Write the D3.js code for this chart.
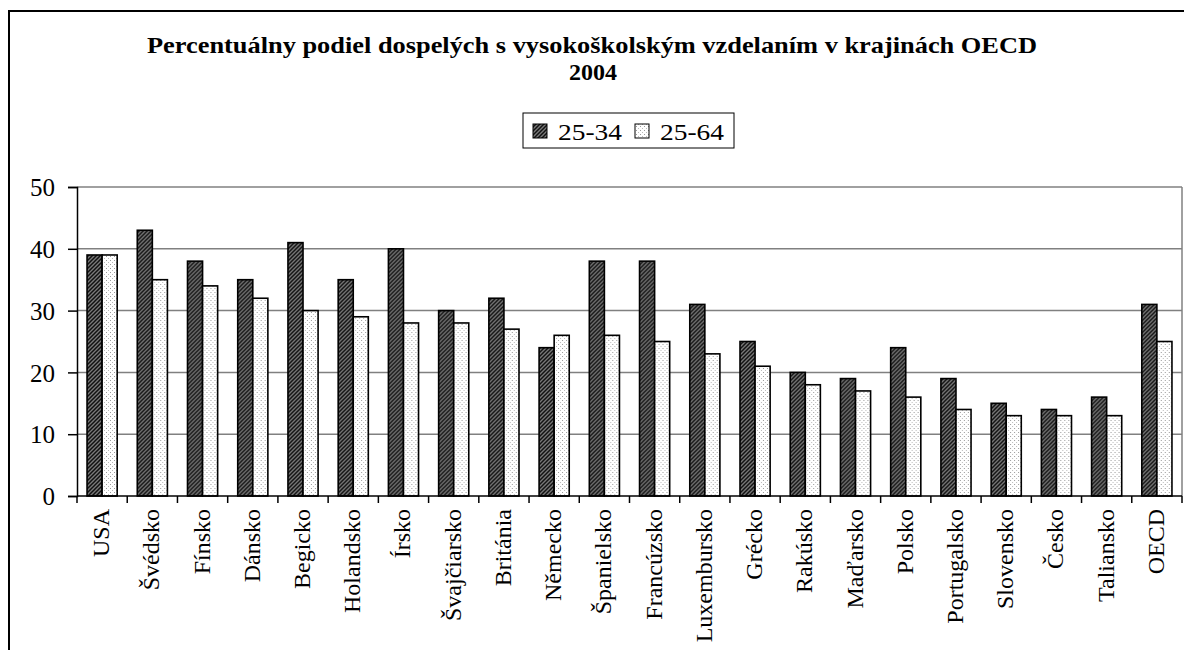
<!DOCTYPE html>
<html>
<head>
<meta charset="utf-8">
<script src="https://cdn.jsdelivr.net/npm/d3@7"></script>
<style>
  body { margin: 0; background: #fff; }
  svg text { font-family: "Liberation Serif", "Times New Roman", Times, serif !important; }
</style>
</head>
<body>
<div class="chart"></div>
<script>
var svgWidth = 1184;
var svgHeight = 650;

var countries = ["USA", "Švédsko", "Fínsko", "Dánsko", "Begicko", "Holandsko", "Írsko", "Švajčiarsko",
  "Británia", "Německo", "Španielsko", "Francúzsko", "Luxembursko", "Grécko", "Rakúsko", "Maďarsko",
  "Polsko", "Portugalsko", "Slovensko", "Česko", "Taliansko", "OECD"];
var young = [39, 43, 38, 35, 41, 35, 40, 30, 32, 24, 38, 38, 31, 25, 20, 19, 24, 19, 15, 14, 16, 31];   // 25-34
var all = [39, 35, 34, 32, 30, 29, 28, 28, 27, 26, 26, 25, 23, 21, 18, 17, 16, 14, 13, 13, 13, 25];     // 25-64
var seriesNames = ["25-34", "25-64"];
var yTicks = [0, 10, 20, 30, 40, 50];

var margin = { top: 187, right: 2, bottom: 154, left: 77 };
var width = svgWidth - margin.left - margin.right;
var height = svgHeight - margin.top - margin.bottom;

var svg = d3.select(".chart")
  .append("svg")
  .attr("width", svgWidth)
  .attr("height", svgHeight);

// fill patterns
var defs = svg.append("defs");
var hatch = defs.append("pattern")
  .attr("id", "hatch")
  .attr("patternUnits", "userSpaceOnUse")
  .attr("width", 4).attr("height", 4);
hatch.append("rect").attr("width", 4).attr("height", 4).attr("fill", "#7a7a7a");
hatch.append("path").attr("d", "M-1,1 l2,-2 M0,4 l4,-4 M3,5 l2,-2")
  .attr("stroke", "#111").attr("stroke-width", 1.5);

var dots = defs.append("pattern")
  .attr("id", "dots")
  .attr("patternUnits", "userSpaceOnUse")
  .attr("width", 4).attr("height", 4);
dots.append("rect").attr("width", 4).attr("height", 4).attr("fill", "#fff");
dots.append("rect").attr("x", 1).attr("y", 1).attr("width", 1).attr("height", 1).attr("fill", "#999");
dots.append("rect").attr("x", 3).attr("y", 3).attr("width", 1).attr("height", 1).attr("fill", "#bbb");

var fills = ["url(#hatch)", "url(#dots)"];

// outer frame
svg.append("rect")
  .attr("x", 9).attr("y", 11)
  .attr("width", 1200).attr("height", 700)
  .attr("fill", "none").attr("stroke", "#000").attr("stroke-width", 2);

// title
svg.append("text")
  .attr("x", 147).attr("y", 53)
  .attr("font-weight", "bold").attr("font-size", 24)
  .attr("textLength", 890).attr("lengthAdjust", "spacingAndGlyphs")
  .text("Percentuálny podiel dospelých s vysokoškolským vzdelaním v krajinách OECD");
svg.append("text")
  .attr("x", 569).attr("y", 80)
  .attr("font-weight", "bold").attr("font-size", 24)
  .attr("textLength", 48).attr("lengthAdjust", "spacingAndGlyphs")
  .text("2004");

// legend
var legend = svg.append("g").attr("transform", "translate(523,113)");
legend.append("rect")
  .attr("width", 211).attr("height", 35)
  .attr("fill", "#fff").attr("stroke", "#000").attr("stroke-width", 1);
var legendX = [10, 112];
seriesNames.forEach(function(name, i) {
  legend.append("rect")
    .attr("x", legendX[i]).attr("y", 11)
    .attr("width", 14).attr("height", 14)
    .attr("fill", fills[i]).attr("stroke", "#000").attr("stroke-width", 1);
  legend.append("text")
    .attr("x", legendX[i] + 25).attr("y", 27)
    .attr("font-size", 24)
    .attr("textLength", 64).attr("lengthAdjust", "spacingAndGlyphs")
    .text(name);
});

var chartGroup = svg.append("g")
  .attr("transform", `translate(${margin.left}, ${margin.top})`);

var x0 = d3.scaleBand().domain(countries).range([0, width]).paddingInner(0).paddingOuter(0);
var x1 = d3.scaleBand().domain(seriesNames).range([x0.bandwidth() * 0.2, x0.bandwidth() * 0.8]);
var y = d3.scaleLinear().domain([0, 50]).range([height, 0]);

// gridlines
chartGroup.append("g")
  .selectAll("line")
  .data(yTicks.slice(1))
  .enter().append("line")
  .attr("x1", 0).attr("x2", width)
  .attr("y1", d => y(d)).attr("y2", d => y(d))
  .attr("stroke", "#808080").attr("stroke-width", 1.5);
chartGroup.append("line")
  .attr("x1", width).attr("x2", width)
  .attr("y1", 0).attr("y2", height)
  .attr("stroke", "#808080").attr("stroke-width", 1.5);

// bars
var data = countries.map((c, i) => ({ country: c, values: [young[i], all[i]] }));
var groups = chartGroup.selectAll(".grp")
  .data(data)
  .enter().append("g")
  .attr("transform", d => `translate(${x0(d.country)},0)`);
groups.selectAll("rect")
  .data(d => d.values.map((v, i) => ({ key: seriesNames[i], value: v, i: i })))
  .enter().append("rect")
  .attr("x", d => x1(d.key))
  .attr("width", x1.bandwidth())
  .attr("y", d => y(d.value))
  .attr("height", d => height - y(d.value))
  .attr("fill", d => fills[d.i])
  .attr("stroke", "#000").attr("stroke-width", 1.6);

// axes
var leftAxis = d3.axisLeft(y).tickValues(yTicks).tickSize(9).tickPadding(13);
var gl = chartGroup.append("g").call(leftAxis).attr("font-family", null);
gl.select(".domain").attr("stroke", "#000").attr("stroke-width", 1.5);
gl.selectAll(".tick line").attr("stroke-width", 1.5);
gl.selectAll("text").attr("font-size", 25).attr("dy", "0.35em");

var bottomAxis = chartGroup.append("g").attr("transform", `translate(0, ${height})`);
bottomAxis.append("line")
  .attr("x1", 0).attr("x2", width)
  .attr("stroke", "#000").attr("stroke-width", 1.5);
bottomAxis.selectAll(".tk")
  .data(d3.range(countries.length + 1))
  .enter().append("line")
  .attr("x1", i => i * x0.step()).attr("x2", i => i * x0.step())
  .attr("y1", 0).attr("y2", 7)
  .attr("stroke", "#000").attr("stroke-width", 1.5);
bottomAxis.selectAll(".lbl")
  .data(countries)
  .enter().append("text")
  .attr("transform", d => `translate(${x0(d) + x0.bandwidth() / 2 + 7}, 13) rotate(-90)`)
  .attr("text-anchor", "end")
  .attr("font-size", 24)
  .text(d => d);
</script>
</body>
</html>
